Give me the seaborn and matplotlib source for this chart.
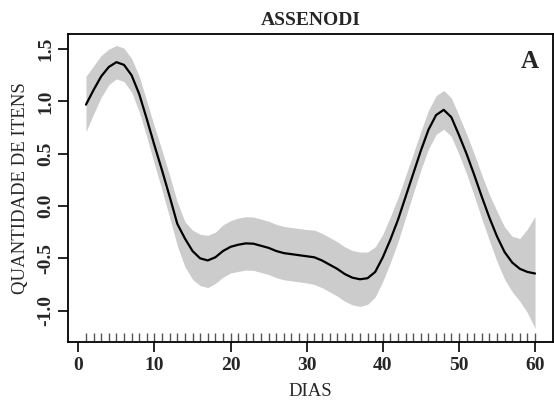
import numpy as np
import pandas as pd
import matplotlib
matplotlib.use("Agg")
import matplotlib.pyplot as plt
import seaborn as sns

days = list(range(1, 61))
fit = [0.97, 1.11, 1.24, 1.33, 1.376, 1.35, 1.25, 1.07, 0.83, 0.58,
       0.34, 0.09, -0.17, -0.31, -0.43, -0.50, -0.52, -0.49, -0.43, -0.39,
       -0.37, -0.357, -0.36, -0.38, -0.40, -0.43, -0.45, -0.46, -0.47, -0.48,
       -0.49, -0.52, -0.56, -0.60, -0.65, -0.685, -0.70, -0.69, -0.63, -0.49,
       -0.32, -0.13, 0.09, 0.31, 0.53, 0.73, 0.87, 0.92, 0.85, 0.68,
       0.50, 0.30, 0.09, -0.11, -0.29, -0.44, -0.54, -0.60, -0.63, -0.645]
upper = [1.24, 1.34, 1.44, 1.50, 1.536, 1.51, 1.41, 1.24, 1.00, 0.76,
         0.53, 0.29, 0.04, -0.15, -0.23, -0.27, -0.28, -0.25, -0.18, -0.14,
         -0.115, -0.102, -0.105, -0.125, -0.145, -0.175, -0.195, -0.205, -0.215, -0.225,
         -0.23, -0.26, -0.30, -0.34, -0.39, -0.425, -0.44, -0.44, -0.39, -0.27,
         -0.10, 0.08, 0.29, 0.50, 0.715, 0.915, 1.055, 1.105, 1.035, 0.865,
         0.69, 0.50, 0.30, 0.11, -0.05, -0.20, -0.29, -0.31, -0.22, -0.10]
lower = [0.71, 0.88, 1.04, 1.16, 1.216, 1.19, 1.09, 0.90, 0.66, 0.40,
         0.15, -0.11, -0.38, -0.58, -0.70, -0.76, -0.78, -0.74, -0.68, -0.64,
         -0.625, -0.612, -0.615, -0.635, -0.655, -0.685, -0.705, -0.715, -0.725, -0.735,
         -0.75, -0.78, -0.82, -0.86, -0.91, -0.945, -0.96, -0.94, -0.87, -0.72,
         -0.54, -0.34, -0.11, 0.12, 0.345, 0.545, 0.685, 0.735, 0.665, 0.495,
         0.31, 0.10, -0.12, -0.33, -0.53, -0.70, -0.82, -0.91, -1.02, -1.17]
xticks = [0, 10, 20, 30, 40, 50, 60]
yticks = [-1.0, -0.5, 0.0, 0.5, 1.0, 1.5]
title = "ASSENODI"
panel = "A"
xlabel = "DIAS"
ylabel = "QUANTIDADE DE ITENS"

sns.set_theme(style="white")
plt.rcParams["font.family"] = ["Liberation Serif", "DejaVu Serif"]
plt.rcParams["axes.unicode_minus"] = False

df = pd.DataFrame({"dia": days, "fit": fit, "upper": upper, "lower": lower})

fig = plt.figure(figsize=(5.54, 4.05), dpi=100)
ax = fig.add_axes([68 / 554, 1 - 342 / 405, (553 - 68) / 554, (342 - 33.5) / 405])

ax.fill_between(df["dia"], df["lower"], df["upper"], color="#cccccc", lw=0, zorder=1)
sns.lineplot(data=df, x="dia", y="fit", color="black", lw=1.6, ax=ax, zorder=3)
sns.rugplot(data=df, x="dia", height=0.03, color="#555555", lw=1.0, ax=ax, zorder=2)

ax.set_xlim(-1.36, 62.36)
ax.set_ylim(-1.30, 1.65)
ax.set_xticks(xticks)
ax.set_yticks(yticks)
ax.set_xticklabels([str(t) for t in xticks], fontweight="bold", fontsize=14)
ax.set_yticklabels([f"{t:.1f}" for t in yticks], fontweight="bold", fontsize=14,
                   rotation=90, va="center")
ax.tick_params(axis="both", direction="out", length=7, width=1.2, color="black",
               bottom=True, left=True)
ax.tick_params(axis="x", pad=4)
ax.tick_params(axis="y", pad=3)

for s in ax.spines.values():
    s.set_visible(True)
    s.set_color("black")
    s.set_linewidth(1.3)

ax.set_xlabel(xlabel, fontsize=13.5, labelpad=6)
ax.set_ylabel(ylabel, fontsize=13.5, labelpad=6)
ax.set_title(title, fontweight="bold", fontsize=14, pad=6)
ax.text(0.97, 0.908, panel, transform=ax.transAxes, ha="right", va="center",
        fontweight="bold", fontsize=18)
ax.grid(False)

fig.savefig("out.png", dpi=100)
